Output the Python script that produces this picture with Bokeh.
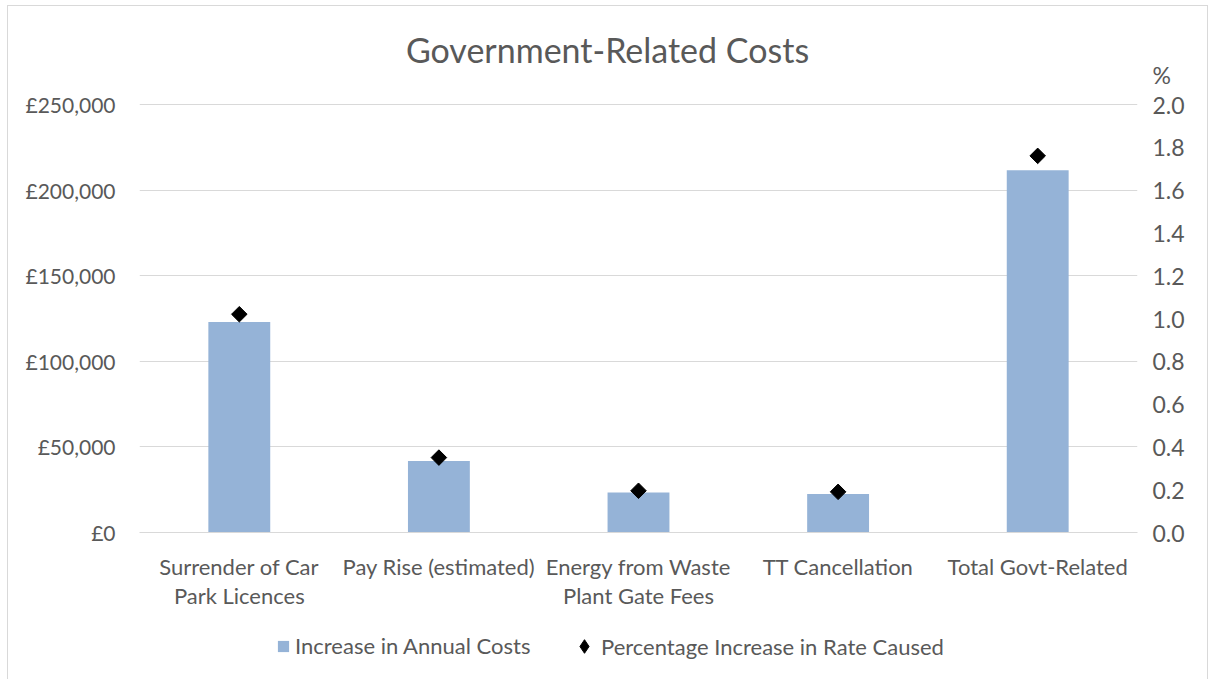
import math
from bokeh.plotting import figure
from bokeh.layouts import column
from bokeh.models import (Range1d, LinearAxis, ColumnDataSource, Legend, LegendItem,
                          Label, FixedTicker)
from bokeh.embed import file_html
from bokeh.resources import INLINE

# ---- data ----
categories = ["Surrender of Car\nPark Licences", "Pay Rise (estimated)",
              "Energy from Waste\nPlant Gate Fees", "TT Cancellation", "Total Govt-Related"]
annual_costs = [123000, 41800, 23400, 22500, 211600]
pct_increase = [1.02, 0.35, 0.195, 0.19, 1.76]
cost_ticks = [0, 50000, 100000, 150000, 200000, 250000]
pct_ticks = [0.0, 0.2, 0.4, 0.6, 0.8, 1.0, 1.2, 1.4, 1.6, 1.8, 2.0]
cost_max = 250000
pct_max = 2.0
pct_unit_pos = 2.14          # where the "%" unit sits on the right scale
title_text = "Government-Related Costs"
series_names = ["Increase in Annual Costs", "Percentage Increase in Rate Caused"]

FONT = "Lato"
GREY = "#595959"
GRID = "#d9d9d9"
BAR = "#95B3D7"

# layout geometry (pixels)
PLOT_H = 428        # height of the 0..max value band
FRAME_H = 512       # frame extends above the value band to hold the title
ext = FRAME_H / PLOT_H

src = ColumnDataSource(dict(cat=categories, cost=annual_costs, pct=pct_increase))

p = figure(x_range=categories, y_range=Range1d(0, cost_max * ext),
           width=1199, height=606, output_backend="svg", toolbar_location=None,
           min_border_left=131, min_border_right=70, min_border_top=14, min_border_bottom=80)
p.outline_line_color = None
p.extra_y_ranges = {"pct": Range1d(0, pct_max * ext)}

bars = p.vbar(x="cat", top="cost", width=0.31, source=src, fill_color=BAR, line_color=None)
pts = p.scatter(x="cat", y="pct", source=src, y_range_name="pct", marker="square",
                angle=math.pi / 4, size=11, fill_color="black", line_color="black")

# left axis
ya = p.yaxis[0]
ya.ticker = FixedTicker(ticks=cost_ticks)
ya.major_label_overrides = {t: f"£{t:,}" for t in cost_ticks}
ya.axis_line_color = None
ya.major_tick_line_color = None
ya.minor_tick_line_color = None
ya.major_tick_out = 0
ya.major_label_standoff = 24
ya.major_label_text_font = FONT
ya.major_label_text_font_size = "21px"
ya.major_label_text_color = GREY

# right axis (with the "%" unit as a top label)
ra = LinearAxis(y_range_name="pct", ticker=FixedTicker(ticks=pct_ticks + [pct_unit_pos]))
overrides = {t: f"{t:.1f}" for t in pct_ticks}
overrides[pct_unit_pos] = "%"
ra.major_label_overrides = overrides
ra.axis_line_color = None
ra.major_tick_line_color = None
ra.minor_tick_line_color = None
ra.major_tick_out = 0
ra.major_label_standoff = 15
ra.major_label_text_font = FONT
ra.major_label_text_font_size = "23px"
ra.major_label_text_color = GREY
p.add_layout(ra, "right")

# x axis
xa = p.xaxis[0]
xa.axis_line_color = GRID
xa.major_tick_line_color = None
xa.minor_tick_line_color = None
xa.major_tick_out = 0
xa.major_label_standoff = 20
xa.major_label_text_font = FONT
xa.major_label_text_font_size = "22px"
xa.major_label_text_color = GREY
xa.major_label_text_line_height = 1.1

p.xgrid.grid_line_color = None
p.ygrid.grid_line_color = GRID
p.ygrid.ticker = FixedTicker(ticks=cost_ticks)

# title (inside the extended frame)
p.add_layout(Label(x=468, y=483, x_units="screen", y_units="screen", text=title_text,
                   text_font=FONT, text_font_size="34px", text_color=GREY,
                   text_align="center", text_baseline="middle"))

# ---- legend strip ----
lg = figure(width=1199, height=67, x_range=(0, 1), y_range=(0, 1),
            x_axis_type=None, y_axis_type=None, output_backend="svg",
            toolbar_location=None, min_border=0)
lg.outline_line_color = None
lg.xgrid.grid_line_color = None
lg.ygrid.grid_line_color = None
# off-range stand-in renderers that only supply the legend swatches
lbar = lg.vbar(x=[-5], top=[-5], bottom=[-6], width=0.1, fill_color=BAR, line_color=None)
lpt = lg.scatter(x=[-5], y=[-5], marker="diamond", size=10,
                 fill_color="black", line_color="black")

common = dict(orientation="horizontal", label_text_font=FONT, label_text_font_size="22px",
              label_text_color=GREY, padding=0, margin=0, border_line_color=None,
              background_fill_alpha=0)
leg_a = Legend(items=[LegendItem(label=series_names[0], renderers=[lbar])],
               location=(137, 20), glyph_width=14, glyph_height=14, label_standoff=5, **common)
leg_b = Legend(items=[LegendItem(label=series_names[1], renderers=[lpt])],
               location=(428, 16), glyph_width=34, glyph_height=34, label_standoff=0, **common)
lg.add_layout(leg_a, "center")
lg.add_layout(leg_b, "center")

layout = column(p, lg, spacing=0)
layout.styles = {"border-top": "1px solid #d9d9d9", "border-left": "1px solid #d9d9d9",
                 "border-right": "1px solid #d9d9d9"}
layout.margin = (5, 0, 0, 7)

open("out.html", "w").write(file_html(layout, INLINE))
